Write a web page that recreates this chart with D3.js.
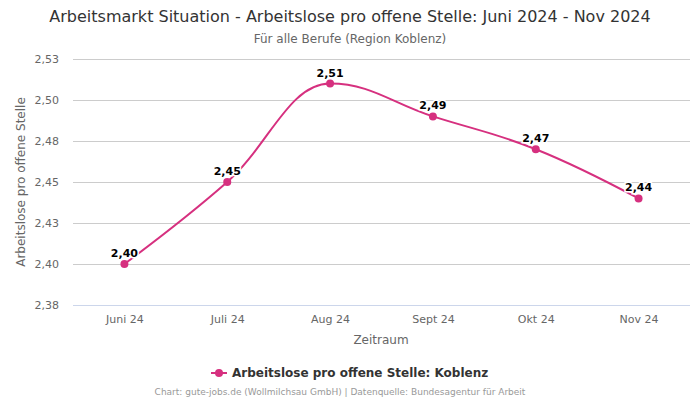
<!DOCTYPE html>
<html><head><meta charset="utf-8">
<script src="https://cdn.jsdelivr.net/npm/d3@7"></script>
<style>body{margin:0;background:#fff;font-family:"DejaVu Sans",sans-serif}</style>
</head><body><svg id="c" width="700" height="400"></svg>
<script>
const categories = ["Juni 24","Juli 24","Aug 24","Sept 24","Okt 24","Nov 24"];
const values = [2.40, 2.45, 2.51, 2.49, 2.47, 2.44];
const yTicks = [2.375, 2.40, 2.425, 2.45, 2.475, 2.50, 2.525];
const title = "Arbeitsmarkt Situation - Arbeitslose pro offene Stelle: Juni 2024 - Nov 2024";
const subtitle = "Für alle Berufe (Region Koblenz)";
const seriesName = "Arbeitslose pro offene Stelle: Koblenz";
const credits = "Chart: gute-jobs.de (Wollmilchsau GmbH) | Datenquelle: Bundesagentur für Arbeit";

const color = "#d6307f";
const fmt = v => (Math.round(v * 100 + 1e-6) / 100).toFixed(2).replace(".", ",");
const svg = d3.select("#c");
const m = {l:73, r:690, t:59, b:305};
const x = d3.scalePoint().domain(categories).range([m.l, m.r]).padding(0.5);
const y = d3.scaleLinear().domain([2.375, 2.525]).range([m.b, m.t]);

svg.append("text").attr("x",350).attr("y",22).attr("text-anchor","middle")
  .attr("font-size",16).attr("fill","#333").text(title);
svg.append("text").attr("x",350).attr("y",43).attr("text-anchor","middle")
  .attr("font-size",12).attr("fill","#666").text(subtitle);

const yAxis = svg.append("g").attr("transform",`translate(${m.l},0)`)
  .call(d3.axisLeft(y).tickValues(yTicks).tickSize(-(m.r-m.l)).tickFormat(fmt));
yAxis.select(".domain").remove();
yAxis.selectAll(".tick line").attr("stroke","#ccc");
yAxis.selectAll(".tick text").attr("x",-14).attr("font-size",11).attr("fill","#666")
  .attr("font-family","DejaVu Sans");
yAxis.selectAll(".tick").filter(d=>d===2.375).select("line").attr("stroke","#ccd6eb");

const xAxis = svg.append("g").attr("transform",`translate(0,${m.b})`)
  .call(d3.axisBottom(x).tickSize(0).tickPadding(10));
xAxis.select(".domain").remove();
xAxis.selectAll(".tick text").attr("font-size",11).attr("fill","#666").attr("font-family","DejaVu Sans");

svg.append("text").attr("x",381).attr("y",344).attr("text-anchor","middle")
  .attr("font-size",12).attr("fill","#666").text("Zeitraum");
svg.append("text").attr("transform","translate(25,182) rotate(-90)").attr("text-anchor","middle")
  .attr("font-size",12).attr("fill","#666").text("Arbeitslose pro offene Stelle");

// Highcharts-like spline
function splinePath(pts) {
  const p = d3.path();
  const sm = 1.5, den = sm + 1;
  const ctrl = pts.map((pt, i) => {
    if (i === 0 || i === pts.length - 1) return null;
    const [px, py] = pt, [lx, ly] = pts[i-1], [nx, ny] = pts[i+1];
    let lcx = (sm*px + lx)/den, lcy = (sm*py + ly)/den;
    let rcx = (sm*px + nx)/den, rcy = (sm*py + ny)/den;
    if (rcx !== lcx) {
      const corr = ((rcy - lcy) * (rcx - px)) / (rcx - lcx) + py - rcy;
      lcy += corr; rcy += corr;
    }
    if (lcy > ly && lcy > py) { lcy = Math.max(ly, py); rcy = 2*py - lcy; }
    else if (lcy < ly && lcy < py) { lcy = Math.min(ly, py); rcy = 2*py - lcy; }
    if (rcy > ny && rcy > py) { rcy = Math.max(ny, py); lcy = 2*py - rcy; }
    else if (rcy < ny && rcy < py) { rcy = Math.min(ny, py); lcy = 2*py - rcy; }
    return {l:[lcx,lcy], r:[rcx,rcy]};
  });
  p.moveTo(pts[0][0], pts[0][1]);
  for (let i = 1; i < pts.length; i++) {
    const c1 = ctrl[i-1] ? ctrl[i-1].r : pts[i-1];
    const c2 = ctrl[i] ? ctrl[i].l : pts[i];
    p.bezierCurveTo(c1[0], c1[1], c2[0], c2[1], pts[i][0], pts[i][1]);
  }
  return p.toString();
}
const pts = values.map((v,i)=>[x(categories[i]), y(v)]);
svg.append("path").attr("d",splinePath(pts)).attr("fill","none")
  .attr("stroke",color).attr("stroke-width",2);
svg.selectAll("circle.pt").data(values).join("circle").attr("class","pt")
  .attr("cx",(d,i)=>x(categories[i])).attr("cy",d=>y(d)).attr("r",4).attr("fill",color);
svg.selectAll("text.lbl").data(values).join("text").attr("class","lbl")
  .attr("x",(d,i)=>x(categories[i])).attr("y",d=>y(d)-7).attr("text-anchor","middle")
  .attr("font-size",11).attr("font-weight","bold").attr("fill","#000")
  .attr("stroke","#fff").attr("stroke-width",3).attr("paint-order","stroke").text(fmt);

svg.append("line").attr("x1",211).attr("x2",227).attr("y1",373).attr("y2",373)
  .attr("stroke",color).attr("stroke-width",2);
svg.append("circle").attr("cx",219).attr("cy",373).attr("r",4).attr("fill",color);
svg.append("text").attr("x",232).attr("y",377).attr("font-size",12).attr("font-weight","bold")
  .attr("fill","#333").text(seriesName);

svg.append("text").attr("x",340).attr("y",395).attr("text-anchor","middle")
  .attr("font-size",9).attr("fill","#999").text(credits);
</script></body></html>
